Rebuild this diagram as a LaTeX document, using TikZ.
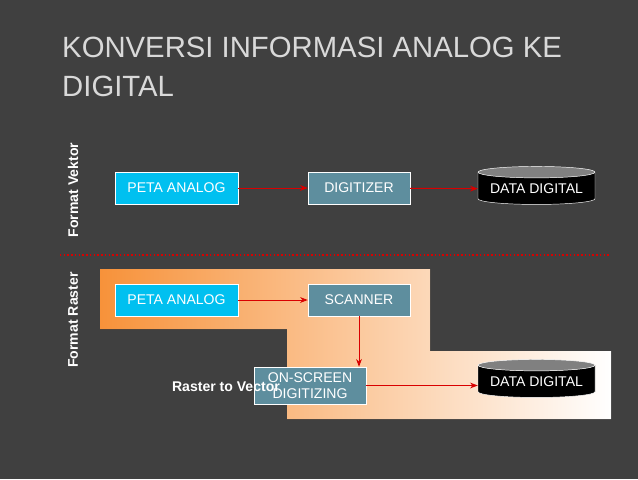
\documentclass[tikz,border=0pt]{standalone}
\usepackage{fontspec}
\setmainfont{Liberation Sans}
\usetikzlibrary{arrows.meta, shapes.geometric, positioning}
\definecolor{bgdark}{HTML}{404040}
\definecolor{petacyan}{HTML}{00C0F0}
\definecolor{steel}{HTML}{5E8E9E}
\definecolor{rasterorange}{HTML}{F7923A}

\begin{document}
\begin{tikzpicture}[
      >=Stealth,
      src/.style={draw=white, fill=petacyan, text=white, minimum width=3.69cm,
                  minimum height=0.96cm, font=\large},
      proc/.style={draw=white, fill=steel, text=white, minimum width=3.06cm,
                   minimum height=0.96cm, font=\large, align=center},
      db/.style={cylinder, shape border rotate=90, draw=white, cylinder uses custom fill,
                 cylinder body fill=black, cylinder end fill=gray, aspect=0.12,
                 minimum width=3.51cm, minimum height=1.14cm, text=white, font=\large, inner sep=1pt},
      side/.style={rotate=90, text=white, font=\bfseries\large},
      arr/.style={->, thick, red!85!black}
    ]
    % --- Background ---
    \fill[bgdark] (0,0) rectangle (19.14,-14.37);
    \fill[left color=rasterorange, right color=white, shading angle=90]
      (3,-8.07) -- (12.9,-8.07) -- (12.9,-10.53) -- (18.33,-10.53)
      -- (18.33,-12.57) -- (8.61,-12.57) -- (8.61,-9.87) -- (3,-9.87) -- cycle;

    % --- Title ---
    \node[anchor=north west, text=white!85!black, font=\fontsize{25}{33}\selectfont,
          align=left, inner sep=0] (title) at (1.86,-1.1)
      {KONVERSI INFORMASI ANALOG KE\\DIGITAL};

    % --- Side labels and separator ---
    \node[side] (vek) at (2.19,-5.7) {Format Vektor};
    \node[side] (ras) at (2.19,-9.6) {Format Raster};
    \coordinate (sepl) at (1.8,-7.65);
    \coordinate (sepr) at (18.27,-7.65);
    \draw[red!85!black, dotted, line width=1.2pt] (sepl) -- (sepr);

    % --- Vector row ---
    \node[src]  (peta1) at (5.295,-5.64) {PETA ANALOG};
    \node[proc] (digi)  at (10.77,-5.64) {DIGITIZER};
    \node[db]   (data1) at (16.095,-5.67) {DATA DIGITAL};

    % --- Raster row ---
    \node[src]  (peta2) at (5.295,-9.0) {PETA ANALOG};
    \node[proc] (scan)  at (10.77,-9.0) {SCANNER};
    \node[proc, minimum width=3.36cm, minimum height=1.11cm, inner sep=1pt]
                (onscr) at (9.3,-11.565) {ON-SCREEN\\DIGITIZING};
    \node[db]   (data2) at (16.095,-11.46) {DATA DIGITAL};
    \node[anchor=east, text=white, font=\bfseries\large] (r2v) at (8.52,-11.61) {Raster to Vector};

    % --- Arrows ---
    \draw[arr] (peta1) -- (digi);
    \draw[arr] (digi) -- (data1);
    \draw[arr] (peta2) -- (scan);
    \draw[arr] (scan) -- (scan |- onscr.north);
    \draw[arr] (onscr) -- (onscr -| data2.west);
\end{tikzpicture}
\end{document}
